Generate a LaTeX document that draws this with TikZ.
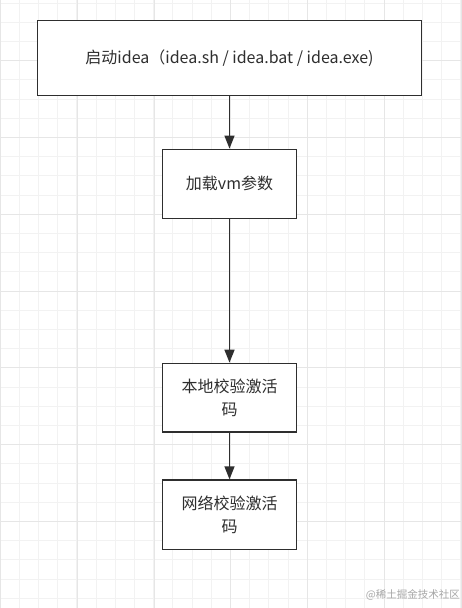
\documentclass[tikz,border=0pt]{standalone}
\usepackage{fontspec}
\setmainfont{Noto Sans CJK SC}
\usetikzlibrary{arrows.meta}
\definecolor{gridminor}{HTML}{F2F2F2}
\definecolor{gridmajor}{HTML}{E6E6E6}
\definecolor{ink}{HTML}{2E2E2E}
\begin{document}
\begin{tikzpicture}[x=1pt,y=-1pt,
  box/.style={draw=ink, line width=1.4pt, fill=white, inner sep=0pt,
    font=\fontsize{16}{22.5}\selectfont, text=ink, align=center},
  conn/.style={draw=ink, line width=1.4pt, -{Triangle[length=13pt,width=10pt]}},
  minorline/.style={gridminor, line width=1pt},
  majorline/.style={gridmajor, line width=1pt},
]
\useasboundingbox (0,0) rectangle (462,608);
\fill[white] (0,0) rectangle (462,608);
% grid
\foreach \i in {0,...,24} {
  \pgfmathsetmacro{\xx}{19.2*\i}
  \draw[minorline] (\xx,0) -- (\xx,608);
}
\foreach \i in {0,...,31} {
  \pgfmathsetmacro{\yy}{3.1+19.2*\i}
  \draw[minorline] (0,\yy) -- (462,\yy);
}
\foreach \i in {0,...,6} {
  \pgfmathsetmacro{\xx}{0.5+76.8*\i}
  \draw[majorline] (\xx,0) -- (\xx,608);
}
\foreach \i in {0,...,7} {
  \pgfmathsetmacro{\yy}{60.7+76.8*(\i-1)}
  \draw[majorline] (0,\yy) -- (462,\yy);
}
% boxes
\node[box, minimum width=384pt, minimum height=74.5pt] (a) at (229.5,58) {启动idea（idea.sh / idea.bat / idea.exe)};
\node[box, minimum width=134pt, minimum height=69pt] (b) at (229.5,183.8) {加载vm参数};
\node[box, minimum width=134pt, minimum height=68.7pt] (c) at (229.5,397.7) {本地校验激活\\码};
\node[box, minimum width=134pt, minimum height=69.3pt] (d) at (229.5,514.7) {网络校验激活\\码};
% connectors
\draw[conn] (a) -- (b);
\draw[conn] (b) -- (c);
\draw[conn] (c) -- (d);
% watermark
\node[anchor=east, inner sep=0pt, text=black!35, font=\fontsize{10.5}{12}\selectfont] (wm) at (460,595) {@稀土掘金技术社区};
\end{tikzpicture}
\end{document}
